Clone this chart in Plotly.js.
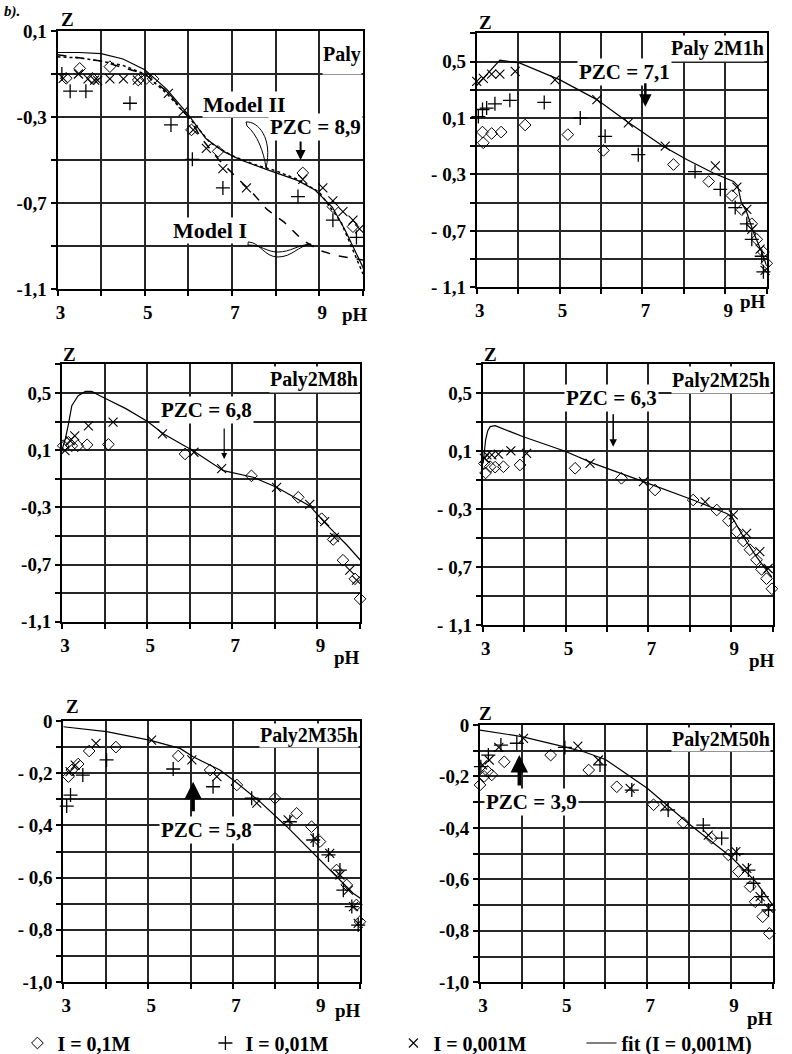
<!DOCTYPE html>
<html><head><meta charset="utf-8">
<script src="https://cdn.plot.ly/plotly-3.0.1.min.js"></script>
<style>html,body{margin:0;padding:0;background:#fff}#chart{width:792px;height:1054px}</style>
</head><body><div id="chart"></div>
<script>
// ---------- tick labels (empty string = gridline without label) ----------
const xTickVals = [3,4,5,6,7,8,9,10];
const xTickText = ['3','','5','','7','','9',''];
const yTickValsA = [-1.1,-0.9,-0.7,-0.5,-0.3,-0.1,0.1];
const yTickTextA = ['-1,1','','-0,7','','-0,3','','0,1'];
const yTickValsB = [-1.1,-0.9,-0.7,-0.5,-0.3,-0.1,0.1,0.3,0.5,0.7];
const yTickTextB2 = ['- 1,1','','- 0,7','','- 0,3','','0,1','','0,5',''];
const yTickTextB3 = ['-1,1','','-0,7','','-0,3','','0,1','','0,5',''];
const yTickValsC = [-1.0,-0.9,-0.8,-0.7,-0.6,-0.5,-0.4,-0.3,-0.2,-0.1,0];
const yTickTextC5 = ['-1,0','','- 0,8','','- 0,6','','- 0,4','','- 0,2','','0'];
const yTickTextC6 = ['-1,0','','-0,8','','-0,6','','-0,4','','-0,2','','0'];

const panelNames = ['Paly','Paly 2M1h','Paly2M8h','Paly2M25h','Paly2M35h','Paly2M50h'];
const pzcLabels = ['PZC = 8,9','PZC = 7,1','PZC = 6,8','PZC = 6,3','PZC = 5,8','PZC = 3,9'];
const legendNames = ['I = 0,1M','I = 0,01M','I = 0,001M','fit (I = 0,001M)'];

// ---------- Panel 1: Paly ----------
const p1DiaX = [3.2,3.51,3.8,4.2,4.85,5.04,5.19,6.07,6.68,8.62,9.31,9.77];
const p1DiaY = [-0.12,-0.074,-0.12,-0.066,-0.128,-0.12,-0.123,-0.36,-0.46,-0.56,-0.717,-0.81];
const p1PlusX = [3.1,3.29,3.65,4.66,5.6,6.09,6.79,8.51,9.31,9.85];
const p1PlusY = [-0.1,-0.18,-0.18,-0.236,-0.337,-0.497,-0.63,-0.67,-0.78,-0.86];
const p1CrossX = [3.13,3.48,3.7,3.85,3.92,4.2,4.51,4.83,5.54,5.88,6.11,6.41,6.79,7.33,8.62,9.08,9.31,9.54,9.77,9.92];
const p1CrossY = [-0.12,-0.1,-0.123,-0.128,-0.13,-0.123,-0.123,-0.128,-0.19,-0.275,-0.36,-0.446,-0.54,-0.63,-0.59,-0.63,-0.69,-0.74,-0.78,-0.82];
const p1FitX = [3,3.5,4,4.5,5,5.5,6,6.4,6.8,7.2,7.8,8.5,8.9,9.3,9.6,10,10.1];
const p1FitY = [0.0,0.0,-0.005,-0.03,-0.08,-0.17,-0.29,-0.4,-0.46,-0.5,-0.545,-0.595,-0.64,-0.72,-0.83,-1.0,-1.06];
const p1Model2X = [3,3.5,4,4.5,5,5.5,6,6.5,7,7.5,8,8.5,9,9.5,10];
const p1Model2Y = [-0.02,-0.025,-0.04,-0.06,-0.1,-0.19,-0.3,-0.42,-0.48,-0.52,-0.55,-0.59,-0.65,-0.79,-1.03];
const p1Model1X = [3,4,4.5,5,5.5,6,6.3,6.7,7.1,7.5,7.8,8.2,8.6,9.0,9.4,10];
const p1Model1Y = [-0.01,-0.04,-0.07,-0.1,-0.18,-0.3,-0.4,-0.5,-0.58,-0.66,-0.73,-0.79,-0.87,-0.92,-0.945,-0.965];

// ---------- Panel 2: Paly 2M1h ----------
const p2DiaX = [3.14,3.16,3.36,3.59,4.17,5.2,6.06,7.75,8.6,9.16,9.4,9.64,9.76,9.92,10.0];
const p2DiaY = [0.0,-0.076,-0.01,0.0,0.05,-0.018,-0.13,-0.23,-0.35,-0.45,-0.55,-0.65,-0.76,-0.85,-0.93];
const p2PlusX = [3.04,3.14,3.24,3.44,3.8,4.63,5.5,6.1,6.9,8.27,8.88,9.24,9.52,9.64,9.88,9.92];
const p2PlusY = [0.11,0.16,0.17,0.2,0.225,0.21,0.1,-0.03,-0.16,-0.28,-0.406,-0.535,-0.65,-0.76,-0.88,-0.99];
const p2CrossX = [3.0,3.16,3.36,3.56,3.93,4.89,5.9,6.66,7.55,8.76,9.28,9.52,9.64,9.84,9.96];
const p2CrossY = [0.36,0.38,0.41,0.41,0.43,0.37,0.23,0.065,-0.1,-0.24,-0.39,-0.547,-0.69,-0.83,-0.98];
const p2FitX = [3,3.3,3.56,4.03,5.01,5.9,6.62,7.5,8.07,8.71,9.2,9.3,9.38,9.52,9.68,9.88,10];
const p2FitY = [0.33,0.43,0.51,0.49,0.37,0.23,0.076,-0.1,-0.194,-0.29,-0.35,-0.38,-0.49,-0.57,-0.71,-0.85,-0.95];

// ---------- Panel 3: Paly2M8h ----------
const p3DiaX = [3.03,3.15,3.23,3.37,3.59,4.09,5.89,7.45,8.55,9.1,9.37,9.6,9.88,10.0];
const p3DiaY = [0.13,0.155,0.13,0.13,0.137,0.14,0.073,-0.08,-0.23,-0.38,-0.525,-0.67,-0.8,-0.94];
const p3CrossX = [3.07,3.19,3.3,3.62,4.2,5.36,6.1,6.75,8.04,8.82,9.17,9.4,9.76,9.92];
const p3CrossY = [0.096,0.167,0.2,0.27,0.296,0.214,0.085,-0.03,-0.16,-0.28,-0.4,-0.51,-0.74,-0.81];
const p3FitX = [3,3.08,3.15,3.23,3.38,3.55,3.7,3.89,4.5,5.01,5.38,6.08,6.79,7.49,8.04,8.82,9.21,9.68,10.04];
const p3FitY = [0.1,0.18,0.28,0.41,0.48,0.51,0.51,0.48,0.39,0.3,0.214,0.096,-0.044,-0.09,-0.16,-0.29,-0.42,-0.56,-0.68];

// ---------- Panel 4: Paly2M25h ----------
const p4DiaX = [3.04,3.07,3.18,3.3,3.5,3.9,5.23,6.35,7.16,8.08,8.65,8.93,9.13,9.29,9.45,9.61,9.73,9.85,9.98];
const p4DiaY = [0.016,-0.05,-0.007,-0.01,-0.007,0.005,-0.018,-0.087,-0.168,-0.237,-0.306,-0.38,-0.456,-0.52,-0.58,-0.65,-0.716,-0.78,-0.85];
const p4CrossX = [3.04,3.1,3.22,3.38,3.68,4.06,5.59,6.88,8.37,9.05,9.37,9.69,9.89];
const p4CrossY = [0.05,0.074,0.074,0.08,0.103,0.085,0.016,-0.11,-0.25,-0.34,-0.467,-0.594,-0.71];
const p4FitX = [3.01,3.04,3.07,3.12,3.18,3.3,3.98,4.99,5.67,6.88,8.08,8.89,9.01,9.29,9.61,9.98];
const p4FitY = [0.016,0.1,0.177,0.24,0.27,0.276,0.2,0.1,0.016,-0.11,-0.237,-0.33,-0.35,-0.49,-0.63,-0.77];

// ---------- Panel 5: Paly2M35h ----------
const p5DiaX = [3.12,3.2,3.35,3.61,4.24,5.71,6.46,7.09,7.99,8.5,8.85,9.05,9.44,9.68,9.91,9.99];
const p5DiaY = [-0.213,-0.188,-0.165,-0.115,-0.1,-0.134,-0.188,-0.245,-0.296,-0.354,-0.405,-0.462,-0.571,-0.628,-0.705,-0.769];
const p5PlusX = [3.08,3.17,3.46,4.02,5.59,6.53,7.44,8.34,8.89,9.25,9.52,9.6,9.8,9.95];
const p5PlusY = [-0.326,-0.284,-0.207,-0.149,-0.184,-0.252,-0.296,-0.386,-0.456,-0.513,-0.571,-0.648,-0.711,-0.782];
const p5CrossX = [3.16,3.28,3.77,5.08,6.03,6.62,7.56,8.3,8.93,9.28,9.52,9.72,9.84,9.95];
const p5CrossY = [-0.194,-0.169,-0.086,-0.073,-0.149,-0.213,-0.315,-0.379,-0.45,-0.507,-0.59,-0.648,-0.711,-0.775];
const p5FitX = [3,4.02,5.03,5.75,6.06,6.69,7.05,7.64,8.27,8.97,9.44,9.83,10.1];
const p5FitY = [-0.022,-0.041,-0.073,-0.105,-0.137,-0.188,-0.232,-0.31,-0.405,-0.52,-0.597,-0.66,-0.69];

// ---------- Panel 6: Paly2M50h ----------
const p6DiaX = [3.0,3.1,3.18,3.28,3.58,4.69,5.6,6.27,7.15,7.86,8.54,8.94,9.18,9.46,9.58,9.76,9.92];
const p6DiaY = [-0.233,-0.2,-0.18,-0.194,-0.143,-0.117,-0.175,-0.24,-0.31,-0.38,-0.44,-0.505,-0.57,-0.628,-0.687,-0.745,-0.81];
const p6PlusX = [3.02,3.2,3.5,3.88,5.03,5.87,6.63,7.5,8.34,8.78,9.14,9.42,9.54,9.74,9.9];
const p6PlusY = [-0.162,-0.117,-0.078,-0.071,-0.087,-0.155,-0.253,-0.33,-0.389,-0.44,-0.501,-0.564,-0.615,-0.667,-0.719];
const p6CrossX = [3.06,3.22,3.45,4.04,5.34,5.83,6.59,7.42,8.46,9.12,9.38,9.7,9.9];
const p6CrossY = [-0.155,-0.136,-0.087,-0.052,-0.082,-0.136,-0.246,-0.318,-0.428,-0.492,-0.557,-0.667,-0.712];
const p6FitX = [3,4,5,5.5,6,7,8,9,9.6,10];
const p6FitY = [-0.02,-0.045,-0.084,-0.105,-0.134,-0.246,-0.385,-0.512,-0.61,-0.7];

// PZC arrow tips (pH, Z) and label positions
const pzcArrowX = [8.57,7.07,6.81,6.15,6.06,3.94];
const pzcArrowY = [-0.5,0.18,0.038,0.13,-0.233,-0.117];
const pzcTextX = [8.92,6.56,6.4,6.12,6.38,4.22];
const pzcTextY = [-0.347,0.427,0.38,0.467,-0.418,-0.3];

// ---------- layout helpers ----------
const W = 792, H = 1054;
const FF = 'Liberation Serif, Times New Roman, serif';
const px = v => v / W;
const py = v => 1 - v / H;
const F = (s) => ({family: FF, size: s, color: '#000'});
const B = t => '<b>' + t + '</b>';
const TL = t => t === '' ? '\u00a0' : B(t);   // keep gridline, hide label

const panels = [
  {xd:[57.5,363], yd:[31,289], yr:[-1.1,0.1], yv:yTickValsA, yt:yTickTextA, row:43,
   dia:[p1DiaX,p1DiaY], plus:[p1PlusX,p1PlusY], cross:[p1CrossX,p1CrossY], fit:[p1FitX,p1FitY],
   z:[67,19], ph:[355,315], arrow:{ay:-20, w:2}},
  {xd:[476.7,766.7], yd:[33.3,287.3], yr:[-1.1,0.7], yv:yTickValsB, yt:yTickTextB2, row:28.3,
   dia:[p2DiaX,p2DiaY], plus:[p2PlusX,p2PlusY], cross:[p2CrossX,p2CrossY], fit:[p2FitX,p2FitY],
   z:[485,22], ph:[753,301], arrow:{ay:-25, w:2.5}},
  {xd:[62,360], yd:[364.3,621.7], yr:[-1.1,0.7], yv:yTickValsB, yt:yTickTextB3, row:28.4,
   dia:[p3DiaX,p3DiaY], plus:null, cross:[p3CrossX,p3CrossY], fit:[p3FitX,p3FitY],
   z:[69,354], ph:[347,657], arrow:{ay:-32, w:1.2}},
  {xd:[482.7,772.7], yd:[364.3,625], yr:[-1.1,0.7], yv:yTickValsB, yt:yTickTextB2, row:29,
   dia:[p4DiaX,p4DiaY], plus:null, cross:[p4CrossX,p4CrossY], fit:[p4FitX,p4FitY],
   z:[490,354], ph:[762,660], arrow:{ay:-34, w:1.5}},
  {xd:[63.3,360.3], yd:[721,982], yr:[-1.0,0], yv:yTickValsC, yt:yTickTextC5, row:26.1,
   dia:[p5DiaX,p5DiaY], plus:[p5PlusX,p5PlusY], cross:[p5CrossX,p5CrossY], fit:[p5FitX,p5FitY],
   z:[72,706], ph:[348,1010], arrow:{ay:31, w:3.5}},
  {xd:[480,772.7], yd:[725,982.3], yr:[-1.0,0], yv:yTickValsC, yt:yTickTextC6, row:25.7,
   dia:[p6DiaX,p6DiaY], plus:[p6PlusX,p6PlusY], cross:[p6CrossX,p6CrossY], fit:[p6FitX,p6FitY],
   z:[485,713], ph:[760,1018], arrow:{ay:32, w:3.5}}
];

const layout = {
  width: W, height: H, margin: {l:0, r:0, t:0, b:0, autoexpand:false},
  paper_bgcolor: '#fff', plot_bgcolor: '#fff',
  showlegend: true,
  legend: {orientation:'h', x:0.022, xanchor:'left', y:py(1043), yanchor:'middle',
    entrywidth:143, entrywidthmode:'pixels', font:F(20), bgcolor:'rgba(0,0,0,0)',
    itemwidth:30, tracegroupgap:0, borderwidth:0},
  annotations: [], shapes: []
};
const traces = [];
const axisCommon = {
  showgrid:true, gridcolor:'#262626', gridwidth:2,
  showline:true, linecolor:'#000', linewidth:2, mirror:true,
  ticks:'outside', ticklen:5, tickwidth:2, tickcolor:'#000',
  zeroline:false, tickfont:F(19), fixedrange:true, tickmode:'array', automargin:false
};

panels.forEach((p, i) => {
  const s = i === 0 ? '' : String(i + 1);
  const xa = 'x' + s, ya = 'y' + s;
  layout['xaxis' + s] = Object.assign({}, axisCommon, {
    domain:[px(p.xd[0]), px(p.xd[1])], range:[3,10], anchor: ya,
    tickvals:xTickVals, ticktext:xTickText.map(TL), ticklabelshift:3
  });
  layout['yaxis' + s] = Object.assign({}, axisCommon, {
    domain:[py(p.yd[1]), py(p.yd[0])], range:p.yr, anchor: xa,
    tickvals:p.yv, ticktext:p.yt.map(TL)
  });
  const first = i === 0;
  traces.push({type:'scatter', mode:'markers', x:p.dia[0], y:p.dia[1], xaxis:xa, yaxis:ya,
    name:B(legendNames[0]), showlegend:first, legendgroup:'d',
    marker:{symbol:'diamond-open', size:9, color:'#000', line:{width:1, color:'#000'}}, cliponaxis:false});
  if (p.plus) {
    traces.push({type:'scatter', mode:'markers', x:p.plus[0], y:p.plus[1], xaxis:xa, yaxis:ya,
      name:B(legendNames[1]), showlegend:first, legendgroup:'p',
      marker:{symbol:'cross-thin', size:10, color:'#000', line:{width:1.3, color:'#000'}}, cliponaxis:false});
  }
  traces.push({type:'scatter', mode:'markers', x:p.cross[0], y:p.cross[1], xaxis:xa, yaxis:ya,
    name:B(legendNames[2]), showlegend:first, legendgroup:'c',
    marker:{symbol:'x-thin', size:9, color:'#000', line:{width:1.1, color:'#000'}}, cliponaxis:false});
  traces.push({type:'scatter', mode:'lines', x:p.fit[0], y:p.fit[1], xaxis:xa, yaxis:ya,
    name:B(legendNames[3]), showlegend:first, legendgroup:'f', line:{color:'#000', width:1.2}});
  if (first) {
    traces.push({type:'scatter', mode:'lines', x:p1Model2X, y:p1Model2Y, xaxis:xa, yaxis:ya,
      showlegend:false, line:{color:'#000', width:1.5, dash:'dot'}});
    traces.push({type:'scatter', mode:'lines', x:p1Model1X, y:p1Model1Y, xaxis:xa, yaxis:ya,
      showlegend:false, line:{color:'#000', width:1.5, dash:'dash'}});
  }
  layout.annotations.push({xref:xa, yref:ya, x:10, y:p.yr[1], xanchor:'right', yanchor:'top',
    xshift:-1.5, yshift:-1.5, text:B(panelNames[i]), showarrow:false, font:F(20),
    bgcolor:'#fff', height:p.row - 3, borderpad:0});
  layout.annotations.push({xref:xa, yref:ya, x:pzcTextX[i], y:pzcTextY[i], text:B(pzcLabels[i]),
    xanchor:'center', yanchor:'middle', showarrow:false, font:F(21), bgcolor:'#fff', borderpad:1});
  layout.annotations.push({xref:xa, yref:ya, x:pzcArrowX[i], y:pzcArrowY[i], text:'',
    showarrow:true, ax:0, ay:p.arrow.ay, axref:'pixel', ayref:'pixel',
    arrowhead:2, arrowsize:1, arrowwidth:p.arrow.w, arrowcolor:'#000', standoff:0});
  layout.annotations.push({xref:'paper', yref:'paper', x:px(p.z[0]), y:py(p.z[1]), text:B('Z'),
    xanchor:'center', yanchor:'middle', showarrow:false, font:F(19)});
  layout.annotations.push({xref:'paper', yref:'paper', x:px(p.ph[0]), y:py(p.ph[1]), text:B('pH'),
    xanchor:'center', yanchor:'middle', showarrow:false, font:F(19)});
});

layout.annotations.push({xref:'x', yref:'y', x:7.29, y:-0.244, text:B('Model II'), showarrow:false,
  xanchor:'center', yanchor:'middle', font:F(22), bgcolor:'#fff', borderpad:0});
layout.annotations.push({xref:'x', yref:'y', x:6.5, y:-0.826, text:B('Model I'), showarrow:false,
  xanchor:'center', yanchor:'middle', font:F(22), bgcolor:'#fff', borderpad:0});
layout.annotations.push({xref:'paper', yref:'paper', x:px(2), y:py(1), xanchor:'left', yanchor:'top',
  text:'<b><i>b).</i></b>', showarrow:false, font:F(15)});

function pathPx(cmds) {
  return cmds.map(c => typeof c === 'string' ? c : (px(c[0]).toFixed(5) + ',' + py(c[1]).toFixed(5))).join(' ');
}
layout.shapes.push({type:'path', xref:'paper', yref:'paper', line:{color:'#000', width:1},
  path: pathPx(['M',[246,122],'C',[258,121],[273,138],[266,168],'C',[264,152],[257,134],[247,126],'Z'])});
layout.shapes.push({type:'path', xref:'paper', yref:'paper', line:{color:'#000', width:1},
  path: pathPx(['M',[248,242],'C',[260,242],[264,257],[278,257],'C',[292,257],[298,246],[311,244],
    'C',[297,245],[291,252],[278,252],'C',[266,252],[262,245],[248,245],'Z'])});

Plotly.newPlot('chart', traces, layout, {staticPlot:true, displayModeBar:false});
</script></body></html>
